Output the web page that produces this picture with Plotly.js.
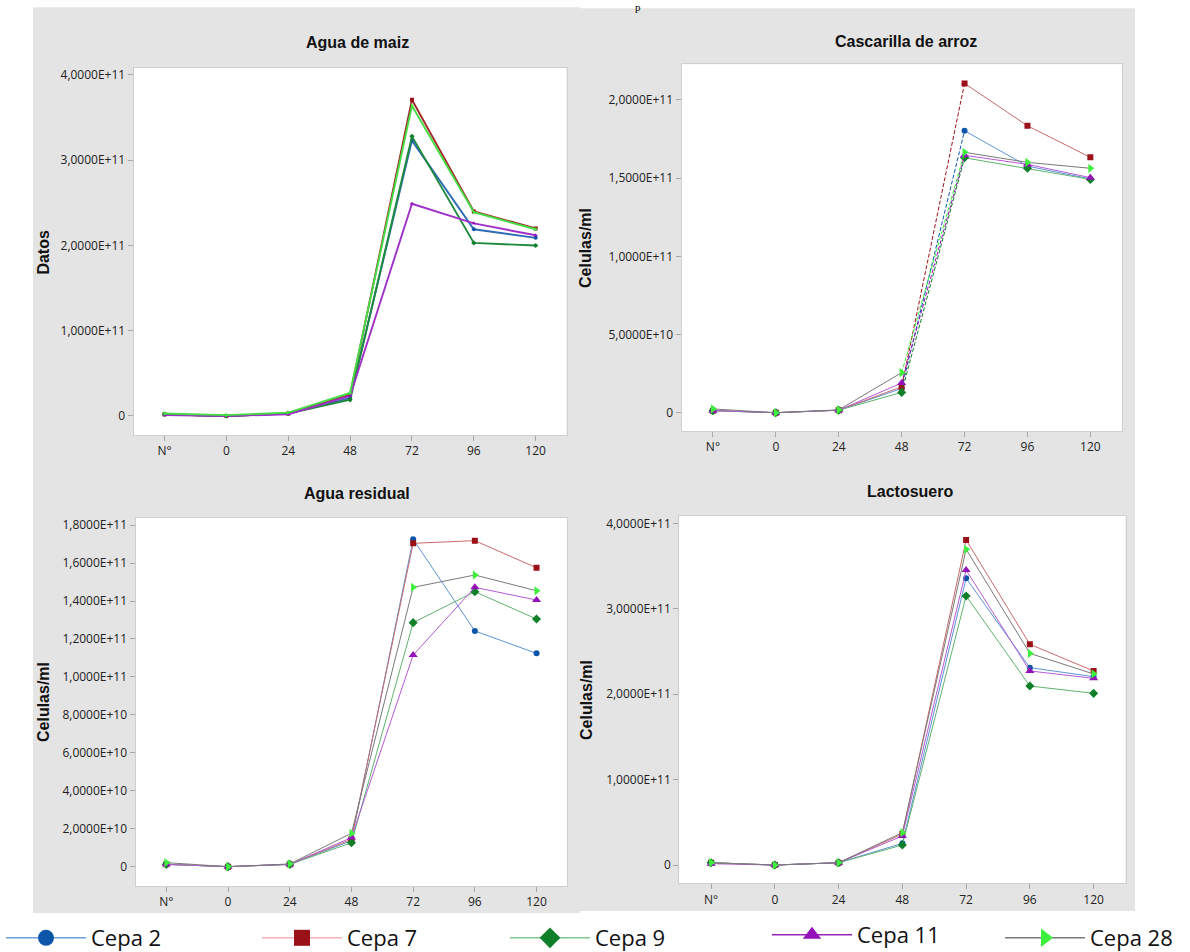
<!DOCTYPE html>
<html><head><meta charset="utf-8">
<script src="https://cdn.plot.ly/plotly-3.0.1.min.js"></script>
<style>html,body{margin:0;padding:0;background:#fff}#chart{width:1190px;height:952px}</style>
</head><body><div id="chart"></div>
<script>
// ---------------- DATA ----------------
const categories = ["N°", "0", "24", "48", "72", "96", "120"];
const seriesNames = ["Cepa 2", "Cepa 7", "Cepa 9", "Cepa 11", "Cepa 28"];

// Agua de maiz
const maiz_cepa2  = [0.02e11, 0.00e11, 0.03e11, 0.21e11, 3.23e11, 2.19e11, 2.09e11];
const maiz_cepa7  = [0.02e11, 0.00e11, 0.03e11, 0.25e11, 3.71e11, 2.40e11, 2.20e11];
const maiz_cepa9  = [0.02e11, 0.00e11, 0.03e11, 0.19e11, 3.28e11, 2.03e11, 2.00e11];
const maiz_cepa11 = [0.01e11, 0.00e11, 0.02e11, 0.235e11, 2.49e11, 2.26e11, 2.12e11];
const maiz_cepa28 = [0.03e11, 0.01e11, 0.04e11, 0.27e11, 3.64e11, 2.39e11, 2.19e11];

// Cascarilla de arroz
const arroz_cepa2  = [0.013e11, 0.0, 0.016e11, 0.155e11, 1.803e11, 1.577e11, 1.495e11];
const arroz_cepa7  = [0.013e11, 0.0, 0.016e11, 0.166e11, 2.106e11, 1.835e11, 1.633e11];
const arroz_cepa9  = [0.013e11, 0.0, 0.016e11, 0.130e11, 1.630e11, 1.563e11, 1.492e11];
const arroz_cepa11 = [0.013e11, 0.0, 0.016e11, 0.190e11, 1.646e11, 1.588e11, 1.503e11];
const arroz_cepa28 = [0.024e11, 0.0, 0.018e11, 0.256e11, 1.665e11, 1.601e11, 1.563e11];

// Agua residual
const residual_cepa2  = [0.012e11, 0.0, 0.012e11, 0.137e11, 1.725e11, 1.242e11, 1.124e11];
const residual_cepa7  = [0.012e11, 0.0, 0.012e11, 0.144e11, 1.704e11, 1.718e11, 1.575e11];
const residual_cepa9  = [0.012e11, 0.0, 0.012e11, 0.126e11, 1.286e11, 1.449e11, 1.305e11];
const residual_cepa11 = [0.012e11, 0.0, 0.012e11, 0.153e11, 1.115e11, 1.472e11, 1.405e11];
const residual_cepa28 = [0.021e11, 0.0, 0.014e11, 0.176e11, 1.472e11, 1.537e11, 1.454e11];

// Lactosuero
const lacto_cepa2  = [0.027e11, 0.0, 0.027e11, 0.254e11, 3.357e11, 2.311e11, 2.205e11];
const lacto_cepa7  = [0.027e11, 0.0, 0.027e11, 0.363e11, 3.806e11, 2.584e11, 2.272e11];
const lacto_cepa9  = [0.027e11, 0.0, 0.027e11, 0.234e11, 3.150e11, 2.096e11, 2.010e11];
const lacto_cepa11 = [0.015e11, 0.0, 0.027e11, 0.340e11, 3.454e11, 2.272e11, 2.186e11];
const lacto_cepa28 = [0.027e11, 0.0, 0.027e11, 0.379e11, 3.696e11, 2.478e11, 2.237e11];

// Tick labels
const ticks4Vals = [0, 1e11, 2e11, 3e11, 4e11];
const ticks4Text = ["0", "1,0000E+11", "2,0000E+11", "3,0000E+11", "4,0000E+11"];
const ticksArrozVals = [0, 5e10, 1e11, 1.5e11, 2e11];
const ticksArrozText = ["0", "5,0000E+10", "1,0000E+11", "1,5000E+11", "2,0000E+11"];
const ticksResidualVals = [0, 2e10, 4e10, 6e10, 8e10, 1e11, 1.2e11, 1.4e11, 1.6e11, 1.8e11];
const ticksResidualText = ["0", "2,0000E+10", "4,0000E+10", "6,0000E+10", "8,0000E+10",
  "1,0000E+11", "1,2000E+11", "1,4000E+11", "1,6000E+11", "1,8000E+11"];

const panelTitles = ["Agua de maiz", "Cascarilla de arroz", "Agua residual", "Lactosuero"];
const yTitles = ["Datos", "Celulas/ml", "Celulas/ml", "Celulas/ml"];

// ---------------- STYLE / LAYOUT ----------------
const W = 1190, H = 952;
const fx = p => p / W;
const fy = p => 1 - p / H;

const styles = [
  {sym: 'circle',         mk: '#0b56a8', line: '#5b93d3', heavy: '#2f6db5', leg: '#6d9fd8', size: 6,  lx: 1,    ly: 938},
  {sym: 'square',         mk: '#9b1118', line: '#c86a6a', heavy: '#a3262a', leg: '#f0b4b4', size: 6,  lx: 257,  ly: 938},
  {sym: 'diamond',        mk: '#0f7f2a', line: '#5fb36f', heavy: '#1e8a3c', leg: '#86c68c', size: 7,  lx: 505,  ly: 938},
  {sym: 'triangle-up',    mk: '#9410b8', line: '#b55ad6', heavy: '#a030c8', leg: '#9a20c0', size: 8,  lx: 767,  ly: 935},
  {sym: 'triangle-right', mk: '#3cf03c', line: '#7a7a7a', heavy: '#44dd44', leg: '#7a7a7a', size: 8,  lx: 1000, ly: 938}
];

const panels = [
  {series: [maiz_cepa2, maiz_cepa7, maiz_cepa9, maiz_cepa11, maiz_cepa28], xa: 'x', ya: 'y', heavy: true, dashRise: false,
   box: [133.6, 566.6, 68, 435], yr: [-0.223e11, 4.082e11], tv: ticks4Vals, tt: ticks4Text,
   title: [357, 43], ytitle: [43.6, 252]},
  {series: [arroz_cepa2, arroz_cepa7, arroz_cepa9, arroz_cepa11, arroz_cepa28], xa: 'x2', ya: 'y2', heavy: false, dashRise: true,
   box: [681.5, 1121.8, 64.3, 431], yr: [-0.117e11, 2.228e11], tv: ticksArrozVals, tt: ticksArrozText,
   title: [906, 42], ytitle: [586, 248]},
  {series: [residual_cepa2, residual_cepa7, residual_cepa9, residual_cepa11, residual_cepa28], xa: 'x3', ya: 'y3', heavy: false, dashRise: false,
   box: [135.5, 567.4, 517.7, 886], yr: [-0.102e11, 1.839e11], tv: ticksResidualVals, tt: ticksResidualText,
   title: [357, 493], ytitle: [43, 702]},
  {series: [lacto_cepa2, lacto_cepa7, lacto_cepa9, lacto_cepa11, lacto_cepa28], xa: 'x4', ya: 'y4', heavy: false, dashRise: false,
   box: [679.2, 1125.5, 515.7, 883.3], yr: [-0.214e11, 4.09e11], tv: ticks4Vals, tt: ticks4Text,
   title: [910, 491], ytitle: [586, 700]}
];

const traces = [];
panels.forEach(p => {
  p.series.forEach((vals, i) => {
    const s = styles[i];
    const lineColor = p.heavy ? s.heavy : s.line;
    const lw = p.heavy ? 1.9 : 1;
    const msize = p.heavy ? 4 : s.size;
    const base = {xaxis: p.xa, yaxis: p.ya, showlegend: false, hoverinfo: 'skip', name: seriesNames[i]};
    if (!p.dashRise) {
      traces.push(Object.assign({}, base, {x: categories, y: vals, mode: 'lines+markers',
        line: {color: lineColor, width: lw}, marker: {symbol: s.sym, color: s.mk, size: msize}}));
    } else {
      traces.push(Object.assign({}, base, {x: categories.slice(0, 4), y: vals.slice(0, 4), mode: 'lines+markers',
        line: {color: lineColor, width: lw}, marker: {symbol: s.sym, color: s.mk, size: msize}}));
      traces.push(Object.assign({}, base, {x: categories.slice(3, 5), y: vals.slice(3, 5), mode: 'lines',
        line: {color: s.mk, width: 1, dash: '4px,2px'}}));
      traces.push(Object.assign({}, base, {x: categories.slice(4), y: vals.slice(4), mode: 'lines+markers',
        line: {color: lineColor, width: lw}, marker: {symbol: s.sym, color: s.mk, size: msize}}));
    }
  });
});

const legendFont = {family: 'Open Sans', size: 22, color: '#111'};
const layout = {
  width: W, height: H,
  margin: {l: 0, r: 0, t: 0, b: 0, autoexpand: false},
  paper_bgcolor: '#ffffff', plot_bgcolor: '#ffffff',
  showlegend: true,
  shapes: [
    {type: 'rect', xref: 'paper', yref: 'paper', x0: fx(33), x1: fx(580), y0: fy(913), y1: fy(7.3),
     fillcolor: '#e4e4e4', line: {width: 0}, layer: 'below'},
    {type: 'rect', xref: 'paper', yref: 'paper', x0: fx(580), x1: fx(1135), y0: fy(911), y1: fy(8.3),
     fillcolor: '#e4e4e4', line: {width: 0}, layer: 'below'}
  ],
  annotations: [
    {text: 'p', xref: 'paper', yref: 'paper', x: fx(638), y: fy(0), xanchor: 'center', yanchor: 'top',
     showarrow: false, font: {family: 'Liberation Serif', size: 11, color: '#000'}, borderpad: 0}
  ]
};

// one legend per series, so each entry sits where the reference puts it
seriesNames.forEach((n, i) => {
  const s = styles[i];
  const lg = i === 0 ? 'legend' : 'legend' + (i + 1);
  traces.push({x: categories, y: categories.map(() => null), xaxis: 'x', yaxis: 'y', name: n,
    legend: lg, mode: 'lines+markers', showlegend: true, hoverinfo: 'skip',
    line: {color: s.leg, width: 1.5}, marker: {symbol: s.sym, color: s.mk, size: 16}});
  layout[lg] = {orientation: 'h', x: fx(s.lx), y: fy(s.ly), xanchor: 'left', yanchor: 'middle',
    font: legendFont, itemwidth: 80, bgcolor: 'rgba(0,0,0,0)', borderwidth: 0};
});

const tickFont = {family: 'Open Sans', size: 12, color: '#222'};
panels.forEach((p, k) => {
  const n = k === 0 ? '' : String(k + 1);
  const [x0, x1, yt, yb] = p.box;
  layout['xaxis' + n] = {type: 'category', categoryorder: 'array', categoryarray: categories,
    range: [-0.5, 6.5], domain: [fx(x0), fx(x1)], anchor: 'y' + n,
    showgrid: false, zeroline: false, showline: true, mirror: true, linecolor: '#cfcfcf', linewidth: 1,
    ticks: 'outside', ticklen: 5, tickcolor: '#a8a8a8', tickfont: tickFont, fixedrange: true};
  layout['yaxis' + n] = {range: p.yr, domain: [fy(yb), fy(yt)], anchor: 'x' + n,
    tickvals: p.tv, ticktext: p.tt,
    showgrid: false, zeroline: false, showline: true, mirror: true, linecolor: '#cfcfcf', linewidth: 1,
    ticks: 'outside', ticklen: 5, tickcolor: '#a8a8a8', tickfont: tickFont, fixedrange: true};
  layout.shapes.push({type: 'rect', xref: 'paper', yref: 'paper', x0: fx(x0), x1: fx(x1), y0: fy(yb), y1: fy(yt),
    fillcolor: '#ffffff', line: {width: 0}, layer: 'below'});
  layout.annotations.push({text: panelTitles[k], xref: 'paper', yref: 'paper', x: fx(p.title[0]), y: fy(p.title[1]),
    xanchor: 'center', yanchor: 'middle', showarrow: false,
    font: {family: 'Liberation Sans', size: 16, color: '#111', weight: 'bold'}});
  layout.annotations.push({text: yTitles[k], xref: 'paper', yref: 'paper', x: fx(p.ytitle[0]), y: fy(p.ytitle[1]),
    xanchor: 'center', yanchor: 'middle', showarrow: false, textangle: -90,
    font: {family: 'Liberation Sans', size: 16, color: '#111', weight: 'bold'}});
});

Plotly.newPlot('chart', traces, layout, {staticPlot: true, displayModeBar: false});
</script>
</body></html>
